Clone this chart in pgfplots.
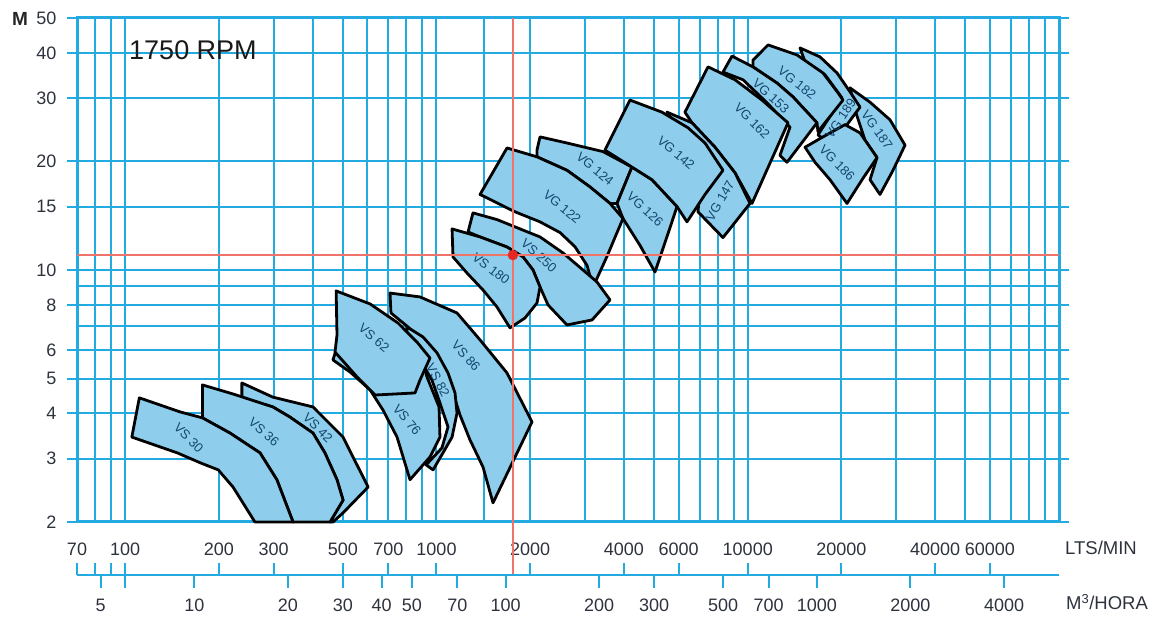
\documentclass[border=0pt]{standalone}
\usepackage{fontspec}
\setmainfont{Liberation Sans}
\usepackage{pgfplots}
\pgfplotsset{compat=1.18}
\definecolor{gridblue}{RGB}{35,170,225}
\definecolor{pumpfill}{RGB}{142,206,236}
\definecolor{lbl}{RGB}{20,70,110}
\definecolor{tickgray}{RGB}{45,50,60}
\definecolor{redline}{RGB}{240,115,105}
\definecolor{reddot}{RGB}{230,40,35}
\pgfplotsset{pump/.style={fill=pumpfill, draw=black, line width=2.8pt, line join=round}}
\tikzset{plab/.style={text=lbl, font=\fontsize{13}{13}\selectfont, inner sep=0pt}}
\begin{document}
\begin{tikzpicture}
\useasboundingbox (0,0) rectangle (1163pt,619pt);
\begin{axis}[
  at={(77pt,97pt)}, anchor=south west, scale only axis, width=982pt, height=504pt,
  xmode=log, ymode=log, xmin=70, xmax=100000, ymin=2, ymax=50,
  clip=false,
  xtick={70,100,200,300,500,700,1000,2000,4000,6000,10000,20000,40000,60000},
  xticklabels={70,100,200,300,500,700,1000,2000,4000,6000,10000,20000,40000,60000},
  minor xtick={80,90,400,600,800,900,1420,3000,5000,7000,8000,9000,30000,50000,70000,80000,90000},
  ytick={2,3,4,5,6,8,10,15,20,30,40,50},
  yticklabels={2,3,4,5,6,8,10,15,20,30,40,50},
  minor ytick={7,9},
  grid=both,
  major grid style={draw=gridblue, line width=2pt},
  minor grid style={draw=gridblue, line width=2pt},
  axis line style={draw=gridblue, line width=3pt},
  tick align=outside, major tick length=10pt, minor tick length=0pt,
  xtick style={draw=none},
  ytick style={draw=gridblue, line width=2pt},
  ticklabel style={font=\fontsize{18}{20}\selectfont, text=tickgray},
  xticklabel style={anchor=center, yshift=-17pt},
  yticklabel style={anchor=east, xshift=-7pt},
]
% group 1
\addplot[pump] coordinates {(237,4.86)(298,4.44)(401,4.17)(501,3.44)(603,2.50)(501,2.12)(465,2)(455,2)(501,2.30)(479,2.62)(438,3.11)(401,3.53)(338,3.91)(298,4.17)(237,4.42)} -- cycle;
\addplot[pump] coordinates {(177,4.80)(222,4.53)(298,4.17)(338,3.91)(401,3.53)(438,3.11)(479,2.62)(501,2.30)(455,2)(346,2)(307,2.62)(271,3.11)(217,3.53)(177,3.89)} -- cycle;
\addplot[pump] coordinates {(111,4.42)(105,3.44)(147,3.11)(174,2.92)(199,2.79)(222,2.50)(261,2)(346,2)(307,2.62)(271,3.11)(217,3.53)(177,3.89)(150,4.04)} -- cycle;
% group 2
\addplot[pump] coordinates {(709,8.63)(885,8.42)(1164,7.60)(1380,6.40)(1685,5.18)(2027,3.79)(1519,2.26)(1411,2.84)(1281,3.38)(1190,3.96)(1122,4.65)(1026,5.45)(919,6.28)(810,6.95)(714,7.60)} -- cycle;
\addplot[pump] coordinates {(804,6.95)(905,6.52)(1004,5.89)(1089,5.18)(1147,4.56)(1164,4.01)(1122,3.44)(1049,3.11)(975,2.79)(926,2.88)(1041,3.21)(1089,3.67)(1026,4.28)(967,4.95)(885,5.63)(804,6.40)} -- cycle;
\addplot[pump] coordinates {(465,5.63)(528,5.21)(612,4.65)(673,4.09)(747,3.44)(822,2.62)(953,3.03)(1026,3.44)(1019,4.17)(932,5.05)(885,6.00)(490,6.40)(476,6.00)} -- cycle;
\addplot[pump] coordinates {(476,8.75)(612,8.05)(752,7.13)(866,6.31)(953,5.70)(885,4.95)(853,4.56)(635,4.50)(556,5.05)(472,5.92)(479,6.60)} -- cycle;
% group 3
\addplot[pump] coordinates {(2151,23.4)(2626,22.5)(3428,21.3)(4246,19.3)(3802,15.3)(3610,15.3)(3113,17.0)(2626,18.9)(2103,20.6)(2103,21.5)} -- cycle;
\addplot[pump] coordinates {(4246,19.3)(4925,17.8)(5926,15.0)(5626,13.1)(5035,9.87)(4507,11.7)(3974,13.9)(3802,15.3)} -- cycle;
\addplot[pump] coordinates {(1685,21.8)(2103,20.6)(2626,18.9)(3113,17.0)(3610,15.3)(3974,13.9)(3529,10.9)(3184,8.97)(3045,10.3)(2786,11.6)(2494,12.7)(2151,13.6)(1788,14.5)(1380,16.2)} -- cycle;
\addplot[pump] coordinates {(1310,14.4)(1564,13.8)(1897,12.9)(2151,12.35)(2550,11.15)(2956,10.0)(3279,9.26)(3610,8.26)(3160,7.27)(2626,7.04)(2282,8.00)(2151,8.97)(2042,10.0)(1897,10.87)(1685,11.58)(1380,12.35)(1263,12.75)} -- cycle;
\addplot[pump] coordinates {(1122,13.0)(1380,12.35)(1685,11.58)(1897,10.87)(2042,10.0)(2151,8.97)(2103,8.10)(1925,7.36)(1723,6.91)(1564,7.90)(1411,8.80)(1253,9.81)(1130,10.87)} -- cycle;
% group 4
\addplot[pump] coordinates {(21310,32.0)(24710,29.2)(28640,26.1)(32010,22.2)(29290,18.9)(26600,16.2)(24710,17.8)(26020,20.5)(23810,22.9)(22110,27.8)} -- cycle;
\addplot[pump] coordinates {(14720,41.3)(17070,39.0)(19360,35.2)(21310,31.2)(22950,28.3)(20690,25.1)(18650,22.2)(16810,23.7)(20090,30.0)(17710,34.8)(15280,37.8)} -- cycle;
\addplot[pump] coordinates {(15280,21.9)(17450,23.4)(20530,25.3)(22950,24.0)(26020,20.5)(23290,17.8)(20840,15.3)(18380,17.8)(16450,19.9)} -- cycle;
\addplot[pump] coordinates {(11620,42.1)(14390,39.5)(17450,35.2)(19500,31.0)(20230,29.6)(16810,24.2)(16690,25.6)(13980,30.2)(12420,33.0)(10390,36.6)(10390,38.2)} -- cycle;
\addplot[pump] coordinates {(8900,39.2)(10390,36.6)(12420,33.0)(13980,30.2)(16690,25.6)(13370,19.9)(12690,20.8)(13670,24.9)(11530,29.1)(9656,33.7)(8326,35.4)} -- cycle;
\addplot[pump] coordinates {(7454,36.6)(9101,33.7)(11110,29.6)(13470,25.6)(11790,19.8)(10320,15.3)(9101,18.6)(7851,21.9)(6621,25.6)(6284,27.4)} -- cycle;
\addplot[pump] coordinates {(5503,27.4)(6621,25.6)(7851,21.9)(9101,18.6)(10170,15.3)(8326,12.3)(6920,14.5)(7023,16.7)(6524,21.5)} -- cycle;
\addplot[pump] coordinates {(4184,29.6)(5303,27.4)(6429,24.8)(7291,22.5)(8326,18.9)(7291,16.2)(6380,13.6)(5926,15.0)(4925,17.8)(4246,19.3)(3478,21.5)} -- cycle;
% labels
\node[plab, rotate=-45] at (axis cs:160,3.42) {VS 30};
\node[plab, rotate=-41] at (axis cs:279,3.55) {VS 36};
\node[plab, rotate=-45] at (axis cs:416,3.65) {VS 42};
\node[plab, rotate=-40] at (axis cs:630,6.48) {VS 62};
\node[plab, rotate=-50] at (axis cs:804,3.84) {VS 76};
\node[plab, rotate=-62] at (axis cs:1011,4.95) {VS 82};
\node[plab, rotate=-48] at (axis cs:1244,5.78) {VS 86};
\node[plab, rotate=-37] at (axis cs:1497,10.07) {VS 180};
\node[plab, rotate=-42] at (axis cs:2135,10.94) {VS 250};
\node[plab, rotate=-40] at (axis cs:2532,14.96) {VG 122};
\node[plab, rotate=-40] at (axis cs:3231,19.07) {VG 124};
\node[plab, rotate=-43] at (axis cs:4677,14.77) {VG 126};
\node[plab, rotate=-40] at (axis cs:5883,21.12) {VG 142};
\node[plab, rotate=60] at (axis cs:8144,15.54) {VG 147};
\node[plab, rotate=-45] at (axis cs:10320,25.91) {VG 162};
\node[plab, rotate=-42] at (axis cs:11870,30.39) {VG 153};
\node[plab, rotate=-38] at (axis cs:14390,33.02) {VG 182};
\node[plab, rotate=56] at (axis cs:19900,26.3) {VG 189};
\node[plab, rotate=-45] at (axis cs:19360,19.81) {VG 186};
\node[plab, rotate=-55] at (axis cs:26020,24.46) {VG 187};
% duty point
\addplot[redline, line width=2pt] coordinates {(1760,1.425) (1760,50)};
\addplot[redline, line width=2pt] coordinates {(70,11.0) (100000,11.0)};
\addplot[only marks, mark=*, mark size=5pt, color=reddot] coordinates {(1760,11.0)};
\end{axis}
% LTS/MIN scale ticks (upward)
\begin{axis}[
  at={(77pt,44pt)}, anchor=south west, scale only axis, width=982pt, height=20pt,
  xmode=log, xmin=70, xmax=100000, ymin=0, ymax=1,
  axis x line*=bottom, axis y line=none,
  axis line style={draw=gridblue, line width=2pt, -},
  xtick={70,80,90,100,200,300,500,700,1000,2000,4000,6000,10000,20000,40000,60000},
  xticklabels={},
  tick align=inside, major tick length=12pt, minor tick length=0pt,
  xtick style={draw=gridblue, line width=2pt},
]
\addplot[draw=none] coordinates {(100,0.5)};
\end{axis}
% M3/HORA scale ticks (downward)
\begin{axis}[
  at={(77pt,44pt)}, anchor=south west, scale only axis, width=982pt, height=20pt,
  xmode=log, xmin=4.2, xmax=6000, ymin=0, ymax=1,
  axis x line*=bottom, axis y line=none,
  axis line style={draw=gridblue, line width=2pt, -},
  xtick={5,6,10,20,30,40,50,70,100,200,300,500,700,1000,2000,4000},
  xticklabels={5,,10,20,30,40,50,70,100,200,300,500,700,1000,2000,4000},
  tick align=outside, major tick length=13pt, minor tick length=0pt,
  xtick style={draw=gridblue, line width=2pt},
  ticklabel style={font=\fontsize{18}{20}\selectfont, text=tickgray},
  xticklabel style={anchor=center, yshift=-17pt},
]
\addplot[draw=none] coordinates {(10,0.5)};
\end{axis}
\node[font=\fontsize{27}{27}\selectfont, text=black!90] at (193pt,569pt) {1750 RPM};
\node[font=\bfseries\fontsize{19}{19}\selectfont, text=black!85] at (20pt,600pt) {M};
\node[font=\fontsize{18.5}{20}\selectfont, text=tickgray] at (1101pt,71pt) {LTS/MIN};
\node[font=\fontsize{18.5}{20}\selectfont, text=tickgray] at (1107pt,17pt) {M\textsuperscript{3}/HORA};
\end{tikzpicture}
\end{document}
